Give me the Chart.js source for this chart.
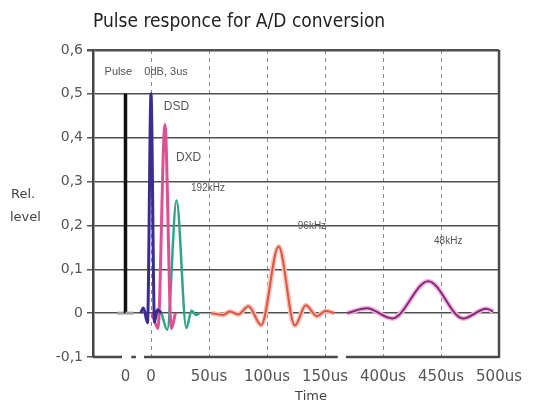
<!DOCTYPE html>
<html>
<head>
<meta charset="utf-8">
<script src="https://cdn.jsdelivr.net/npm/chart.js@4.4.0/dist/chart.umd.min.js"></script>
<style>
    html, body { margin: 0; padding: 0; background: #fff; }
    #wrap { position: relative; width: 533px; height: 408px; }
</style>
</head>
<body>
<div id="wrap"><canvas id="pulseChart"></canvas></div>
<script>
// the time axis is broken: 0..150us, then 400..500us shifted left by 200,
// and the input pulse gets its own "0" at -22
const xTickValues = [-22, 0, 50, 100, 150, 200, 250, 300]
const xTickLabels = ['0', '0', '50us', '100us', '150us', '400us', '450us', '500us']
const yTickValues = [-0.1, 0, 0.1, 0.2, 0.3, 0.4, 0.5, 0.6]

const pulseX = [-29, -22, -22, -22, -15]
const pulseY = [0, 0, 0.5, 0, 0]

const dsdX = [-9, -6.5, -3, 0, 3, 5.5, 9]
const dsdY = [0, 0.012, -0.022, 0.5, -0.02, 0.008, 0]

const dxdX = [1, 6, 12, 17.5, 21]
const dxdY = [0, -0.035, 0.43, -0.035, 0]

const k192X = [9, 14, 22, 30.5, 35, 38.5, 42]
const k192Y = [0, -0.038, 0.257, -0.034, 0.006, -0.004, 0]

const k96X = [52, 62, 68, 75, 84, 95, 110, 124, 133.5, 143, 150.5, 158]
const k96Y = [0, -0.004, 0.004, -0.003, 0.016, -0.027, 0.152, -0.028, 0.018, -0.007, 0.005, 0]

const k48X = [169, 186, 208, 239, 269, 289, 295]
const k48Y = [0, 0.011, -0.012, 0.073, -0.012, 0.01, 0.004]

// pieces of the bottom axis line (it has breaks in it)
const axisPieces = [[-50, -25], [-17, -13], [-6, 161], [168, 300]]

const notes = [
    { text: 'Pulse    0dB, 3us', x: -40, y: 0.55, size: 11 },
    { text: 'DSD', x: 11, y: 0.47, size: 12 },
    { text: 'DXD', x: 21.5, y: 0.355, size: 12 },
    { text: '192kHz', x: 34.5, y: 0.284, size: 10 },
    { text: '96kHz', x: 126.5, y: 0.198, size: 10 },
    { text: '48kHz', x: 244, y: 0.164, size: 10 }
]

const toPoints = (xs, ys) => xs.map((x, i) => ({ x: x, y: ys[i] }))

function line(xs, ys, color, width, order) {
    return {
        data: toPoints(xs, ys),
        borderColor: color,
        borderWidth: width,
        pointRadius: 0,
        fill: false,
        cubicInterpolationMode: 'monotone',
        order: order
    }
}

// the pulse sits on a grey foot, only the spike itself is black
const isFoot = s => s.p0.parsed.y === 0 && s.p1.parsed.y === 0
const pulse = line(pulseX, pulseY, '#111111', 3.5, 1)
pulse.segment = {
    borderColor: s => isFoot(s) ? '#a0a0a0' : undefined,
    borderWidth: s => isFoot(s) ? 3 : undefined
}

const decorations = {
    id: 'decorations',
    afterDraw(chart) {
        const { ctx, chartArea, scales } = chart
        const x = scales.x
        const y = scales.y
        ctx.save()

        ctx.strokeStyle = '#4a4a4a'
        ctx.lineWidth = 2.5
        ctx.beginPath()
        ctx.moveTo(chartArea.right, chartArea.top)
        ctx.lineTo(chartArea.right, chartArea.bottom + 1)
        ctx.stroke()

        axisPieces.forEach(p => {
            ctx.beginPath()
            ctx.moveTo(x.getPixelForValue(p[0]), chartArea.bottom)
            ctx.lineTo(x.getPixelForValue(p[1]), chartArea.bottom)
            ctx.stroke()
        })

        ctx.fillStyle = '#555'
        ctx.textBaseline = 'middle'
        ctx.textAlign = 'left'
        notes.forEach(n => {
            ctx.font = n.size + 'px "Liberation Sans", Arial, sans-serif'
            ctx.fillText(n.text, x.getPixelForValue(n.x), y.getPixelForValue(n.y))
        })

        ctx.fillStyle = '#222'
        ctx.font = '19px "Liberation Sans Narrow", "DejaVu Sans Condensed", "Liberation Sans", sans-serif'
        ctx.fillText('Pulse responce for A/D conversion', chartArea.left, 22)

        ctx.fillStyle = '#444'
        ctx.font = '13px "DejaVu Sans", sans-serif'
        ctx.fillText('Rel.', 11, 195)
        ctx.fillText('level', 10, 218)
        ctx.textAlign = 'center'
        ctx.fillText('Time', 311, 397)

        ctx.restore()
    }
}

const config = {
    type: 'line',
    data: {
        datasets: [
            pulse,
            line(dsdX, dsdY, '#3b2d8f', 3, 2),
            line(dxdX, dxdY, '#e04f94', 3, 3),
            line(k192X, k192Y, '#2fa487', 2.5, 4),
            line(k96X, k96Y, '#e0553f', 2, 5),
            line(k96X, k96Y, '#f6c4bc', 5, 6),
            line(k48X, k48Y, '#86297c', 2, 5),
            line(k48X, k48Y, '#eeb6dc', 5, 6)
        ]
    },
    options: {
        responsive: true,
        maintainAspectRatio: false,
        animation: false,
        layout: { padding: { top: 50, right: 31, bottom: 0, left: 0 } },
        plugins: {
            legend: { display: false },
            tooltip: { enabled: false },
            title: { display: false }
        },
        scales: {
            x: {
                type: 'linear',
                min: -50,
                max: 300,
                afterFit: s => { s.height = 51 },
                afterBuildTicks: s => { s.ticks = xTickValues.map(v => ({ value: v })) },
                ticks: {
                    autoSkip: false,
                    maxRotation: 0,
                    padding: 11,
                    color: '#555',
                    font: { family: 'DejaVu Sans', size: 15 },
                    callback: (v, i) => xTickLabels[i]
                },
                grid: {
                    drawTicks: false,
                    lineWidth: 1,
                    color: c => (c.tick && c.tick.value >= 0 && c.tick.value < 300) ? '#8a8a8a' : 'transparent'
                },
                border: { display: false, dash: [4, 4] }
            },
            y: {
                min: -0.1,
                max: 0.6,
                afterFit: s => { s.width = 93 },
                afterBuildTicks: s => { s.ticks = yTickValues.map(v => ({ value: v })) },
                ticks: {
                    padding: 4,
                    color: '#555',
                    font: { family: 'DejaVu Sans', size: 14 },
                    callback: v => Math.abs(v) < 1e-9 ? '0' : v.toFixed(1).replace('.', ',')
                },
                grid: {
                    tickLength: 6,
                    tickColor: '#555',
                    color: c => (c.tick && c.tick.value < -0.05) ? 'transparent' : '#505050',
                    lineWidth: c => (c.tick && c.tick.value > 0.55) ? 2.5 : 1.5
                },
                border: { display: true, color: '#444', width: 2.5 }
            }
        }
    },
    plugins: [decorations]
}

new Chart(document.getElementById('pulseChart'), config)
</script>
</body>
</html>
